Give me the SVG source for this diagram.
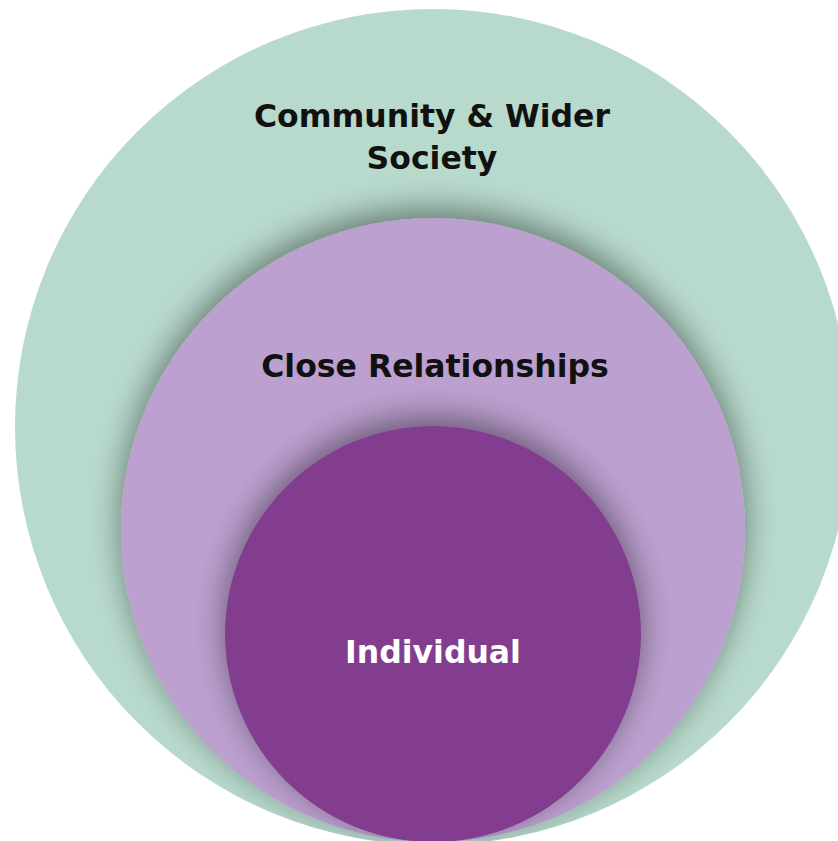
<svg xmlns="http://www.w3.org/2000/svg" width="838" height="841" viewBox="0 0 838 841">
  <defs>
    <filter id="glow" x="-25%" y="-25%" width="150%" height="150%">
      <feGaussianBlur in="SourceAlpha" stdDeviation="16" result="b"/>
      <feOffset in="b" dx="0" dy="-9" result="o"/>
      <feFlood flood-color="#000" flood-opacity="0.45"/>
      <feComposite in2="o" operator="in" result="s"/>
      <feMerge>
        <feMergeNode in="s"/>
        <feMergeNode in="SourceGraphic"/>
      </feMerge>
    </filter>
    <clipPath id="outerClip">
      <circle cx="433" cy="427" r="418"/>
    </clipPath>
    <clipPath id="midClip">
      <circle cx="433" cy="530" r="312"/>
    </clipPath>
  </defs>
  <style>
    .lbl { font-family: "DejaVu Sans", "Liberation Sans", sans-serif; font-weight: bold; font-size: 31.5px; text-anchor: middle; }
    .dark { fill: #111111; }
    .light { fill: #ffffff; }
  </style>
  <rect width="838" height="841" fill="#ffffff"/>
  <g id="community">
    <circle cx="433" cy="427" r="418" fill="#B8DACC"/>
    <text class="lbl dark" x="432" y="127">Community &amp; Wider</text>
    <text class="lbl dark" x="432" y="169">Society</text>
  </g>
  <g id="close-relationships">
    <g clip-path="url(#outerClip)">
      <circle cx="433" cy="530" r="312" fill="#BCA0CF" filter="url(#glow)"/>
    </g>
    <text class="lbl dark" x="435" y="377">Close Relationships</text>
  </g>
  <g id="individual">
    <g clip-path="url(#midClip)">
      <circle cx="433" cy="634" r="208" fill="#823E8E" filter="url(#glow)"/>
    </g>
    <text class="lbl light" x="433" y="663">Individual</text>
  </g>
  <g id="connectors"/>
</svg>
